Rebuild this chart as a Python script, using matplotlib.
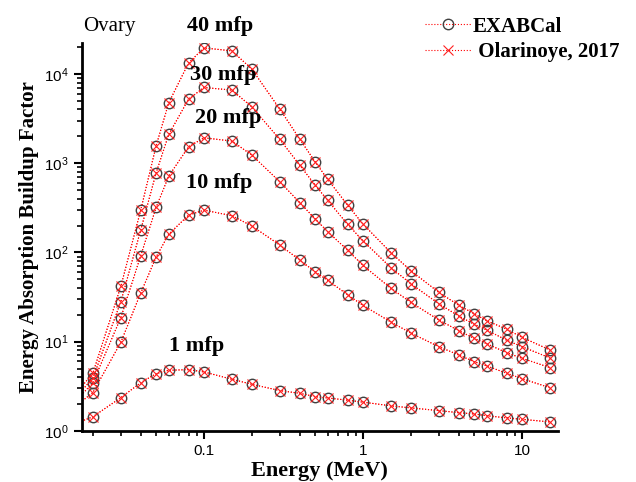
import numpy as np
import matplotlib
matplotlib.use('Agg')
import matplotlib.pyplot as plt

# Photon energies (MeV); the 0.015 point sits left of the visible x range
energy = [0.015, 0.02, 0.03, 0.04, 0.05, 0.06, 0.08, 0.1, 0.15, 0.2, 0.3, 0.4, 0.5,
          0.6, 0.8, 1, 1.5, 2, 3, 4, 5, 6, 8, 10, 15]

# EABF values
b_1mfp = [1.18, 1.44, 2.36, 3.47, 4.38, 4.78, 4.86, 4.58, 3.79, 3.33, 2.83, 2.64, 2.42,
          2.34, 2.21, 2.10, 1.91, 1.81, 1.69, 1.60, 1.55, 1.48, 1.40, 1.35, 1.26]
b_10mfp = [1.8, 2.69, 9.85, 35.1, 88.8, 160, 262, 298, 258, 198, 121, 82.2, 60.8,
           48.7, 33.6, 25.5, 16.6, 12.5, 8.79, 7.10, 5.97, 5.35, 4.43, 3.85, 3.05]
b_20mfp = [2.0, 3.47, 18.6, 91.8, 320, 717, 1527, 1927, 1770, 1233, 619, 362, 238,
           171, 106, 71.7, 39.6, 27.6, 17.5, 13.3, 10.9, 9.5, 7.53, 6.52, 5.12]
b_30mfp = [2.2, 3.89, 28.1, 178, 781, 2101, 5223, 7060, 6590, 4280, 1846, 952, 569,
           383, 207, 135, 67.4, 44.6, 26.6, 19.4, 15.7, 13.5, 10.4, 8.79, 6.57]
b_40mfp = [2.4, 4.43, 41.7, 298, 1567, 4748, 13300, 19600, 18150, 11320, 4036, 1866, 1037,
           659, 340, 208, 99.3, 62.4, 35.7, 25.6, 20.6, 17.2, 13.8, 11.2, 8.07]

exabcal = [b_1mfp, b_10mfp, b_20mfp, b_30mfp, b_40mfp]
olarinoye = [b_1mfp, b_10mfp, b_20mfp, b_30mfp, b_40mfp]

labels = ['1 mfp', '10 mfp', '20 mfp', '30 mfp', '40 mfp']
label_x = [0.0903, 0.124, 0.143, 0.132, 0.127]
label_y = [9.0, 604, 3175, 9700, 34300]

serif = 'Liberation Serif'
sans = 'Liberation Sans'

fig = plt.figure(figsize=(6.36, 4.82), dpi=100)
ax = fig.add_axes([0.129, 0.106, 0.748, 0.805])

for i in range(len(exabcal)):
    ax.plot(energy, exabcal[i], color='red', linestyle=':', linewidth=0.8,
            marker='o', markersize=7.5, markerfacecolor='none',
            markeredgecolor='#404040', markeredgewidth=1,
            label='EXABCal' if i == 0 else None)
for i in range(len(olarinoye)):
    ax.plot(energy, olarinoye[i], color='red', linestyle=':', linewidth=0.8,
            marker='x', markersize=7, markeredgecolor='#ff2020', markeredgewidth=0.8,
            label=' Olarinoye, 2017' if i == 0 else None)

for lab, lx, ly in zip(labels, label_x, label_y):
    ax.text(lx, ly, lab, ha='center', va='center', fontsize=16,
            fontweight='bold', family=serif, clip_on=False)

ax.text(0.0255, 34300, 'Ovary', ha='center', va='center', fontsize=15,
        family=serif, clip_on=False)

ax.set_xscale('log')
ax.set_yscale('log')
ax.set_xlim(0.0171, 16.8)
ax.set_ylim(1, 22300)
ax.set_xticks([0.1, 1, 10])
ax.set_xticklabels(['0.1', '1', '10'])

ax.spines['top'].set_visible(False)
ax.spines['right'].set_visible(False)
ax.spines['left'].set_linewidth(2)
ax.spines['bottom'].set_linewidth(2)
ax.tick_params(which='major', direction='out', length=6, width=1.5,
               labelsize=11, labelfontfamily=sans)
ax.tick_params(which='minor', direction='out', length=3.5, width=1.2)

ax.set_xlabel('Energy (MeV)', fontsize=16, fontweight='bold', family=serif, labelpad=2)
ax.set_ylabel('Energy Absorption Buildup Factor', fontsize=15, fontweight='bold',
              family=serif, labelpad=4)

fig.legend(loc='upper right', bbox_to_anchor=(1.0, 1.0), frameon=False,
           prop={'family': serif, 'weight': 'bold', 'size': 15},
           handlelength=2.2, handletextpad=0.1, labelspacing=0.25, borderpad=0.3)

fig.savefig('out.png', dpi=100)
